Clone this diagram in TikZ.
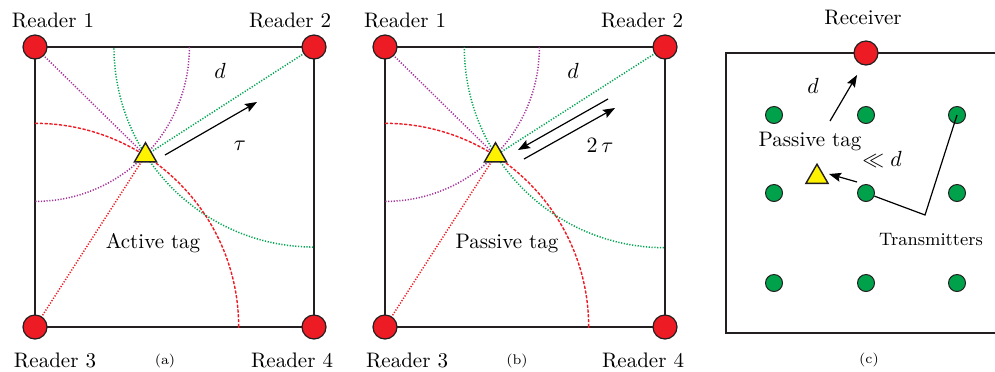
\documentclass[tikz,border=0pt]{standalone}
\usetikzlibrary{calc,shapes.geometric,backgrounds,arrows.meta}
\definecolor{rdred}{HTML}{ED1C24}
\definecolor{txgreen}{HTML}{00A14B}
\definecolor{tagyel}{HTML}{FFF200}
\definecolor{lnblack}{HTML}{231F20}
\definecolor{magc}{HTML}{A5359B}
\definecolor{grc}{HTML}{00A651}
\definecolor{redc}{HTML}{ED1C24}
\tikzset{
  reader/.style={circle,draw=lnblack,fill=rdred,line width=0.6pt,minimum size=12pt,inner sep=0pt},
  tx/.style={circle,draw=lnblack,fill=txgreen,line width=0.5pt,minimum size=8.5pt,inner sep=0pt},
  tagnode/.style={regular polygon,regular polygon sides=3,draw=lnblack,fill=tagyel,line width=0.7pt,minimum size=12.8pt,inner sep=0pt},
  lbl/.style={font=\fontsize{10.5}{12}\selectfont,inner sep=0pt,anchor=base},
  smalllbl/.style={font=\fontsize{9}{11}\selectfont,inner sep=0pt,anchor=base},
  subcap/.style={font=\fontsize{7}{8}\selectfont,inner sep=0pt,anchor=base},
  boxline/.style={draw=lnblack,line width=0.75pt},
  dotline/.style={line width=0.75pt,dash pattern=on 0.6pt off 0.8pt},
  dashline/.style={line width=0.7pt,dash pattern=on 1.6pt off 0.8pt},
  arr/.style={draw=black,line width=0.6pt,-{Stealth[length=6pt,width=4.5pt,inset=1pt]}},
  plainline/.style={draw=black,line width=0.6pt}
}
\begin{document}
\begin{tikzpicture}[x=0.5pt,y=-0.5pt]
\useasboundingbox (0,0) rectangle (995,371);
% ---------------- panel (a)
\node[reader] (a1) at (35,47) {};
\node[reader] (a2) at (314,47) {};
\node[reader] (a3) at (35,327) {};
\node[reader] (a4) at (314,327) {};
\node[tagnode] (ta) at (145.5,155.5) {};
\begin{scope}[on background layer]
  \draw[boxline] (a1.center) -- (a2.center) -- (a4.center) -- (a3.center) -- cycle;
  \begin{scope}
    \clip (a1.center) rectangle (a4.center);
    \draw[dotline,magc] let \p1=($(ta.center)-(a1.center)$), \n1={veclen(\x1,\y1)} in (a1.center) circle[radius=\n1];
    \draw[dotline,grc] let \p1=($(ta.center)-(a2.center)$), \n1={veclen(\x1,\y1)} in (a2.center) circle[radius=\n1];
    \draw[dashline,redc] let \p1=($(ta.center)-(a3.center)$), \n1={veclen(\x1,\y1)} in (a3.center) circle[radius=\n1];
  \end{scope}
  \draw[dotline,magc] (a1.center) -- (ta.center);
  \draw[dotline,grc] (a2.center) -- (ta.center);
  \draw[dotline,redc] (a3.center) -- (ta.center);
\end{scope}
\coordinate (aas) at (165,155);
\coordinate (aae) at (257,102);
\draw[arr] (aas) -- (aae);
\node[lbl] (ra1) at (53,27) {Reader 1};
\node[lbl] (ra2) at (290,27) {Reader 2};
\node[lbl] (ra3) at (55,367) {Reader 3};
\node[lbl] (ra4) at (292,367) {Reader 4};
\node[lbl] (da) at (220,78) {$d$};
\node[lbl] (taua) at (240,150) {$\tau$};
\node[lbl] (acta) at (153,248) {Active tag};
\node[subcap] (capa) at (165,364) {(a)};
% ---------------- panel (b)
\node[reader] (b1) at (385,47) {};
\node[reader] (b2) at (665,47) {};
\node[reader] (b3) at (385,327) {};
\node[reader] (b4) at (665,327) {};
\node[tagnode] (tb) at (495.5,155.5) {};
\begin{scope}[on background layer]
  \draw[boxline] (b1.center) -- (b2.center) -- (b4.center) -- (b3.center) -- cycle;
  \begin{scope}
    \clip (b1.center) rectangle (b4.center);
    \draw[dotline,magc] let \p1=($(tb.center)-(b1.center)$), \n1={veclen(\x1,\y1)} in (b1.center) circle[radius=\n1];
    \draw[dotline,grc] let \p1=($(tb.center)-(b2.center)$), \n1={veclen(\x1,\y1)} in (b2.center) circle[radius=\n1];
    \draw[dashline,redc] let \p1=($(tb.center)-(b3.center)$), \n1={veclen(\x1,\y1)} in (b3.center) circle[radius=\n1];
  \end{scope}
  \draw[dotline,magc] (b1.center) -- (tb.center);
  \draw[dotline,grc] (b2.center) -- (tb.center);
  \draw[dotline,redc] (b3.center) -- (tb.center);
\end{scope}
\coordinate (ba1s) at (608,99);
\coordinate (ba1e) at (518,150);
\coordinate (ba2s) at (524,159);
\coordinate (ba2e) at (615,108);
\draw[arr] (ba1s) -- (ba1e);
\draw[arr] (ba2s) -- (ba2e);
\node[lbl] (rb1) at (405,27) {Reader 1};
\node[lbl] (rb2) at (642,27) {Reader 2};
\node[lbl] (rb3) at (407,367) {Reader 3};
\node[lbl] (rb4) at (643,367) {Reader 4};
\node[lbl] (db) at (573,78) {$d$};
\node[lbl] (taub) at (600,152) {$2\,\tau$};
\node[lbl] (pasb) at (507,248) {Passive tag};
\node[subcap] (capb) at (517,364) {(b)};
% ---------------- panel (c)
\coordinate (ctr) at (996,53);
\coordinate (ctl) at (726,53);
\coordinate (cbl) at (726,333);
\coordinate (cbr) at (996,333);
\draw[boxline] (ctr) -- (ctl) -- (cbl) -- (cbr);
\node[reader] (rc) at (866,53) {};
\node[tx] (g11) at (774,115) {};
\node[tx] (g12) at (866,115) {};
\node[tx] (g13) at (957,115) {};
\node[tx] (g21) at (774,193) {};
\node[tx] (g22) at (866,193) {};
\node[tx] (g23) at (957,193) {};
\node[tx] (g31) at (774,283) {};
\node[tx] (g32) at (866,283) {};
\node[tx] (g33) at (957,283) {};
\node[tagnode] (tc) at (817,177) {};
\coordinate (cds) at (830,121);
\coordinate (cde) at (857,75);
\draw[arr] (cds) -- (cde);
\coordinate (cls) at (857,182);
\coordinate (cle) at (829,174);
\draw[arr] (cls) -- (cle);
\coordinate (tcorner) at (925,215);
\draw[plainline] (g22) -- (tcorner) -- (g13.center);
\node[lbl] (recv) at (863,24) {Receiver};
\node[lbl] (dc) at (813,93) {$d$};
\node[lbl] (pasc) at (810,146) {Passive tag};
\node[lbl] (lld) at (882,166) {$\ll d$};
\node[smalllbl] (trans) at (931,245) {Transmitters};
\node[subcap] (capc) at (869,363) {(c)};
\end{tikzpicture}
\end{document}
